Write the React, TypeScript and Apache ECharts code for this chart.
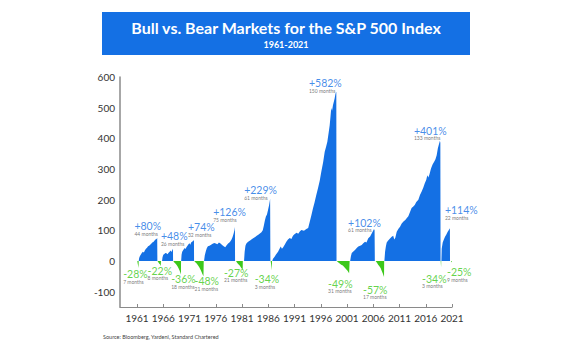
import React, { useEffect, useRef } from "react";
import * as echarts from "echarts";

// ---------- data ----------
const titleText = "Bull vs. Bear Markets for the S&P 500 Index";
const subtitleText = "1961-2021";
const sourceText = "Source: Bloomberg, Yardeni, Standard Chartered";

const yearTicks = [1961, 1966, 1971, 1976, 1981, 1986, 1991, 1996, 2001, 2006, 2011, 2016, 2021];
const valueTicks = [-100, 0, 100, 200, 300, 400, 500, 600];

const bullSegments: number[][][] = [
  [[1961.32,0],[1961.4,10],[1961.55,16],[1961.7,20],[1961.9,26],[1962.1,30],[1962.3,28],[1962.5,35],[1962.7,40],[1962.9,43],[1963.1,48],[1963.3,50],[1963.5,53],[1963.7,56],[1963.9,60],[1964.1,62],[1964.3,66],[1964.5,70],[1964.7,72],[1964.84,75],[1964.87,0]],
  [[1965.76,0],[1965.85,12],[1966.0,20],[1966.2,23],[1966.4,26],[1966.6,25],[1966.8,22],[1967.0,27],[1967.2,30],[1967.4,34],[1967.55,29],[1967.7,35],[1967.84,40],[1967.86,0]],
  [[1969.4,0],[1969.48,20],[1969.6,30],[1969.75,34],[1969.9,38],[1970.1,42],[1970.25,39],[1970.4,45],[1970.6,50],[1970.8,55],[1971.0,58],[1971.15,53],[1971.3,60],[1971.5,63],[1971.7,66],[1971.84,68],[1971.86,0]],
  [[1973.76,0],[1973.9,18],[1974.1,32],[1974.3,42],[1974.5,48],[1974.8,50],[1975.1,53],[1975.4,56],[1975.7,59],[1976.0,57],[1976.3,55],[1976.6,60],[1976.9,57],[1977.2,52],[1977.5,48],[1977.8,45],[1978.1,52],[1978.4,58],[1978.7,62],[1979.0,70],[1979.2,78],[1979.4,90],[1979.55,100],[1979.65,111],[1979.67,0]],
  [[1981.38,0],[1981.5,30],[1981.65,50],[1981.8,56],[1982.0,60],[1982.3,64],[1982.6,68],[1982.9,72],[1983.2,75],[1983.5,78],[1983.8,82],[1984.1,86],[1984.4,90],[1984.7,94],[1984.95,100],[1985.15,115],[1985.35,132],[1985.55,145],[1985.75,152],[1985.95,166],[1986.15,182],[1986.35,202],[1986.4,0]],
  [[1986.75,0],[1986.9,7],[1987.2,14],[1987.5,22],[1987.86,30],[1988.1,38],[1988.37,47],[1988.6,40],[1988.81,44],[1989.1,52],[1989.44,63],[1989.75,70],[1990.09,75],[1990.4,72],[1990.7,82],[1991.04,88],[1991.4,92],[1991.7,89],[1992.0,96],[1992.3,101],[1992.8,99],[1993.25,104],[1993.6,108],[1993.9,128],[1994.2,148],[1994.52,172],[1994.8,190],[1995.1,212],[1995.48,238],[1995.8,262],[1996.1,291],[1996.45,322],[1996.75,356],[1997.0,372],[1997.25,389],[1997.5,418],[1997.7,443],[1997.85,470],[1998.0,499],[1998.15,490],[1998.33,509],[1998.5,520],[1998.65,531],[1998.8,545],[1998.96,552],[1999.0,0]],
  [[2001.6,0],[2001.75,16],[2001.9,26],[2002.2,31],[2002.52,36],[2002.85,42],[2003.15,47],[2003.5,50],[2003.8,52],[2004.1,58],[2004.43,63],[2004.7,60],[2005.05,74],[2005.4,80],[2005.7,90],[2005.95,98],[2006.14,104],[2006.25,100],[2006.3,0]],
  [[2008.12,0],[2008.25,30],[2008.4,47],[2008.56,60],[2008.8,66],[2009.1,72],[2009.51,79],[2009.8,82],[2010.0,70],[2010.2,76],[2010.47,95],[2010.8,105],[2011.1,112],[2011.42,122],[2011.8,130],[2012.1,134],[2012.4,140],[2012.68,146],[2013.0,160],[2013.3,173],[2013.63,178],[2013.9,183],[2014.2,192],[2014.59,200],[2014.9,215],[2015.2,226],[2015.54,240],[2015.8,253],[2016.1,265],[2016.3,280],[2016.49,272],[2016.7,282],[2017.0,302],[2017.3,315],[2017.6,324],[2017.85,332],[2018.08,345],[2018.3,367],[2018.5,380],[2018.7,392],[2018.78,386],[2018.82,0]],
  [[2018.98,0],[2019.04,40],[2019.23,60],[2019.45,70],[2019.67,79],[2019.9,86],[2020.18,95],[2020.4,101],[2020.6,107],[2020.62,0]],
];

const bearSegments: number[][][] = [
  [[1961.05,0],[1961.12,-8],[1961.2,-15],[1961.28,-23],[1961.3,0]],
  [[1964.9,0],[1965.05,-4],[1965.2,-8],[1965.35,-11],[1965.5,-16],[1965.56,0]],
  [[1967.9,0],[1968.1,-5],[1968.3,-8],[1968.5,-12],[1968.7,-17],[1968.9,-24],[1969.1,-31],[1969.25,-38],[1969.36,-44],[1969.38,0]],
  [[1971.9,0],[1972.1,-4],[1972.35,-8],[1972.6,-14],[1972.85,-20],[1973.05,-27],[1973.25,-34],[1973.45,-42],[1973.65,-50],[1973.7,0]],
  [[1979.86,0],[1980.05,-6],[1980.3,-11],[1980.55,-15],[1980.8,-21],[1981.0,-26],[1981.12,-30],[1981.15,0]],
  [[1986.45,0],[1986.55,-12],[1986.62,-22],[1986.68,-30],[1986.7,0]],
  [[1999.05,0],[1999.3,-4],[1999.6,-8],[1999.9,-12],[2000.2,-15],[2000.5,-20],[2000.8,-26],[2001.1,-32],[2001.4,-40],[2001.5,0]],
  [[2006.46,0],[2006.7,-6],[2006.97,-13],[2007.2,-18],[2007.42,-24],[2007.6,-32],[2007.8,-40],[2007.95,-47],[2008.05,-52],[2008.08,0]],
  [[2018.84,0],[2018.88,-10],[2018.92,-20],[2018.95,0]],
  [[2020.81,0],[2021.0,-5],[2021.15,-10],[2021.3,-16],[2021.42,-22],[2021.45,0]],
];

const bullPct = ["+80%", "+48%", "+74%", "+126%", "+229%", "+582%", "+102%", "+401%", "+114%"];
const bullMonths = ["44 months", "26 months", "32 months", "75 months", "61 months", "150 months", "61 months", "133 months", "22 months"];
const bullLabelAt = [[1960.5,114],[1965.55,81],[1970.7,110],[1975.5,159],[1981.4,230],[1993.75,579],[2001.2,125],[2013.75,424],[2019.65,166]];

const bearPct = ["-28%", "-22%", "-36%", "-48%", "-27%", "-34%", "-49%", "-57%", "-34%", "-25%"];
const bearMonths = ["7 months", "8 months", "18 months", "21 months", "21 months", "3 months", "31 months", "17 months", "3 months", "9 months"];
const bearLabelAt = [[1958.35,-44],[1963.0,-31],[1967.5,-60],[1971.95,-66],[1977.55,-38],[1983.4,-60],[1997.4,-74],[2004.05,-93],[2015.3,-58],[2020.05,-36]];

// ---------- styles ----------
const BLUE = "#1470e4";
const GREEN = "#3cc81a";
const FONT = "Lato, 'Noto Sans', sans-serif";

export default function App() {
  const ref = useRef<HTMLDivElement>(null);
  useEffect(() => {
    if (!ref.current) return;
    const chart = echarts.init(ref.current, null, { renderer: "svg" });

    const areaSeries = (segs: number[][][], color: string) =>
      segs.map((seg) => ({
        type: "line",
        data: seg,
        symbol: "none",
        silent: true,
        clip: false,
        lineStyle: { width: 0 },
        areaStyle: { color, opacity: 1, origin: 0 },
      }));

    const labelSeries = (pos: number[][], pct: string[], months: string[], color: string) => ({
      type: "scatter",
      data: pos,
      symbolSize: 0,
      silent: true,
      clip: false,
      label: {
        show: true,
        position: [0, 0],
        align: "left",
        verticalAlign: "top",
        offset: [0, -5],
        formatter: (p: any) => `{p|${pct[p.dataIndex]}}\n{m|${months[p.dataIndex]}}`,
        rich: {
          p: { fontSize: 10.5, fontFamily: FONT, color, lineHeight: 10 },
          m: { fontSize: 5, fontFamily: FONT, color: "#555", lineHeight: 5 },
        },
      },
    });

    chart.setOption({
      animation: false,
      grid: { left: 120, right: 118, top: 77, bottom: 43, containLabel: false, outerBoundsMode: "none" },
      xAxis: {
        type: "value",
        min: 1957.75,
        max: 2021,
        splitLine: { show: false },
        axisLine: { show: true, onZero: false, lineStyle: { color: "#8a8a8a", width: 1.2 } },
        axisTick: { show: true, inside: true, length: 3, customValues: yearTicks, lineStyle: { color: "#8a8a8a" } },
        axisLabel: {
          customValues: yearTicks,
          color: "#333",
          fontSize: 10,
          fontFamily: FONT,
          margin: 6,
          formatter: (v: number) => String(Math.round(v)),
        },
      },
      yAxis: {
        type: "value",
        min: -150,
        max: 600,
        interval: 50,
        splitLine: { show: false },
        axisLine: { show: true, lineStyle: { color: "#8a8a8a", width: 1.5 } },
        axisTick: { show: false },
        axisLabel: {
          customValues: valueTicks,
          color: "#333",
          fontSize: 10,
          fontFamily: FONT,
          margin: 5,
          formatter: (v: number) => (Math.round(v) % 100 === 0 ? String(Math.round(v)) : ""),
        },
      },
      graphic: [
        { type: "rect", shape: { x: 102, y: 12, width: 368, height: 43 }, style: { fill: BLUE } },
        {
          type: "text", x: 286, y: 27,
          style: { text: titleText, fill: "#fff", font: `bold 16px ${FONT}`, textAlign: "center", textVerticalAlign: "middle", align: "center", verticalAlign: "middle" },
        },
        {
          type: "text", x: 286, y: 44,
          style: { text: subtitleText, fill: "#fff", font: `bold 9px ${FONT}`, textAlign: "center", textVerticalAlign: "middle", align: "center", verticalAlign: "middle" },
        },
        {
          type: "text", x: 103, y: 337,
          style: { text: sourceText, fill: "#444", font: `5.5px ${FONT}`, textAlign: "left", textVerticalAlign: "middle", align: "left", verticalAlign: "middle" },
        },
      ],
      series: [
        ...areaSeries(bullSegments, BLUE),
        ...areaSeries(bearSegments, GREEN),
        labelSeries(bullLabelAt, bullPct, bullMonths, BLUE),
        labelSeries(bearLabelAt, bearPct, bearMonths, GREEN),
      ],
    });
    return () => chart.dispose();
  }, []);
  return <div ref={ref} style={{ width: 570, height: 350, position: "absolute", left: 0, top: 0 }} />;
}
